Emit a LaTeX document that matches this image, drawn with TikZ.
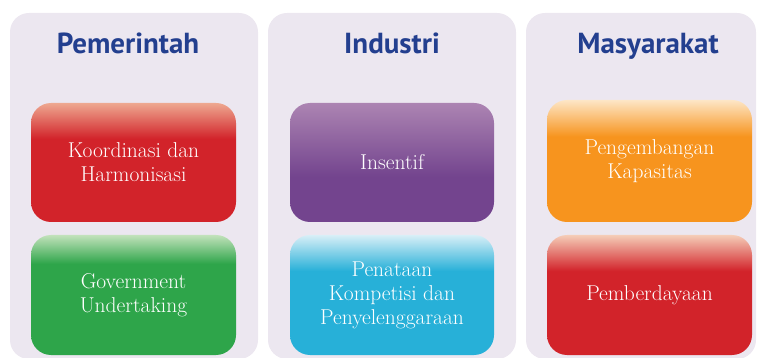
\documentclass[tikz,border=0pt]{standalone}
\usepackage{fontspec}
\newfontfamily\titlefont{PT Sans}
\definecolor{panelbg}{HTML}{ECE7F0}
\definecolor{titleblue}{HTML}{233F8F}
\definecolor{redmain}{HTML}{D2232A}
\definecolor{redtop}{HTML}{EEA890}
\definecolor{redtopb}{HTML}{F5CDB8}
\definecolor{greenmain}{HTML}{2EA54A}
\definecolor{greentop}{HTML}{C2E2BB}
\definecolor{purplemain}{HTML}{73448E}
\definecolor{purpletop}{HTML}{AC84B2}
\definecolor{cyanmain}{HTML}{27B0D8}
\definecolor{cyantop}{HTML}{D8EFF7}
\definecolor{orangemain}{HTML}{F7941E}
\definecolor{orangetop}{HTML}{FDE6C6}
% fades: 25bp = bottom of box, 75bp = top of box
\pgfdeclareverticalshading{redfade}{100bp}{color(0bp)=(redmain); color(60bp)=(redmain); color(75bp)=(redtop); color(100bp)=(redtop)}
\pgfdeclareverticalshading{redfadeb}{100bp}{color(0bp)=(redmain); color(60bp)=(redmain); color(75bp)=(redtopb); color(100bp)=(redtopb)}
\pgfdeclareverticalshading{greenfade}{100bp}{color(0bp)=(greenmain); color(63bp)=(greenmain); color(75bp)=(greentop); color(100bp)=(greentop)}
\pgfdeclareverticalshading{purplefade}{100bp}{color(0bp)=(purplemain); color(44bp)=(purplemain); color(75bp)=(purpletop); color(100bp)=(purpletop)}
\pgfdeclareverticalshading{cyanfade}{100bp}{color(0bp)=(cyanmain); color(60bp)=(cyanmain); color(75bp)=(cyantop); color(100bp)=(cyantop)}
\pgfdeclareverticalshading{orangefade}{100bp}{color(0bp)=(orangemain); color(60bp)=(orangemain); color(75bp)=(orangetop); color(100bp)=(orangetop)}
\begin{document}
\begin{tikzpicture}[x=1pt,y=-1pt,
    panel/.style={fill=panelbg,rounded corners=19pt,minimum height=346pt,inner sep=0pt},
    heading/.style={anchor=base,text=titleblue,font=\titlefont\fontsize{29}{33}\selectfont\bfseries},
    box/.style={shade,rounded corners=20pt,minimum width=205pt,inner sep=0pt,
      text=white,align=center,font=\fontsize{21.5}{24}\selectfont}]
  \useasboundingbox (0,0) rectangle (758,358);
  \begin{scope}
    \clip (0,0) rectangle (758,358);
    \node[panel,minimum width=248pt] (pem) at (134,186) {};
    \node[panel,minimum width=248pt] (ind) at (392,186) {};
    \node[panel,minimum width=230pt] (mas) at (641,186) {};
  \end{scope}
  \node[heading] (pemtitle) at (128,54) {Pemerintah};
  \node[heading] (indtitle) at (392,54) {Industri};
  \node[heading] (mastitle) at (648,54) {Masyarakat};
  \node[box,shading=redfade,minimum height=119pt] (koord) at (133.5,162.5)
    {Koordinasi dan\\Harmonisasi};
  \node[box,shading=greenfade,minimum height=120pt] (gov) at (133.5,295)
    {Government\\Undertaking};
  \node[box,shading=purplefade,minimum height=119pt,minimum width=204pt] (insentif) at (392,162.5)
    {Insentif};
  \node[box,shading=cyanfade,minimum height=120pt,minimum width=204pt] (penataan) at (392,295)
    {Penataan\\Kompetisi dan\\Penyelenggaraan};
  \node[box,shading=orangefade,minimum height=122pt] (pengembangan) at (649.5,161)
    {Pengembangan\\Kapasitas};
  \node[box,shading=redfadeb,minimum height=120pt] (pemberdayaan) at (649.5,295)
    {Pemberdayaan};
\end{tikzpicture}
\end{document}
